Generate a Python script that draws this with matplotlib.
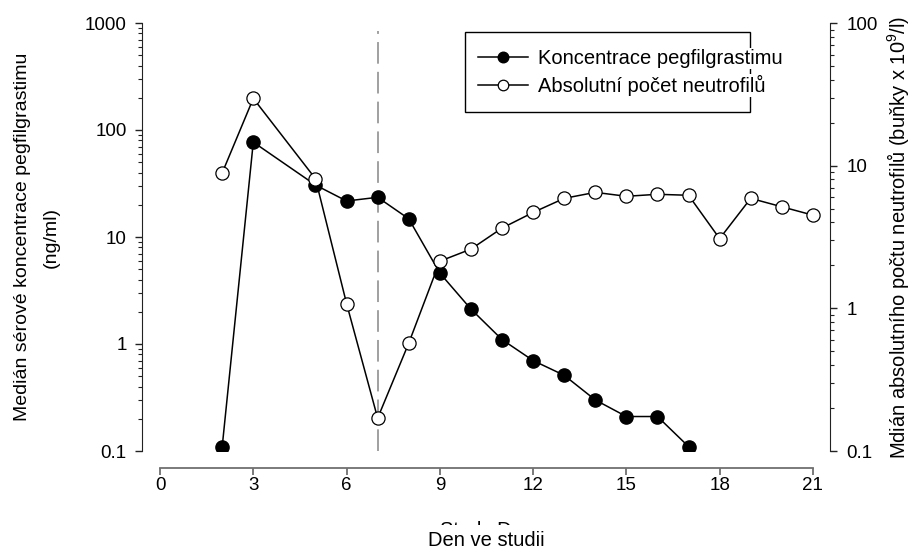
import matplotlib
matplotlib.use('Agg')
import matplotlib.pyplot as plt
from matplotlib.patches import Rectangle

plt.rcParams['font.family'] = ['Liberation Sans', 'DejaVu Sans']
plt.rcParams['mathtext.fontset'] = 'custom'
plt.rcParams['mathtext.rm'] = 'Liberation Sans'
plt.rcParams['mathtext.it'] = 'Liberation Sans:italic'

# data ---------------------------------------------------------------------------------------------------------
days_conc = [2, 3, 5, 6, 7, 8, 9, 10, 11, 12, 13, 14, 15, 16, 17]
conc = [0.11, 77, 30.6, 21.7, 23.5, 14.8, 4.6, 2.12, 1.1, 0.70, 0.51, 0.30, 0.21, 0.21, 0.11]

days_anc = [2, 3, 5, 6, 7, 8, 9, 10, 11, 12, 13, 14, 15, 16, 17, 18, 19, 20, 21]
anc = [8.9, 29.6, 8.1, 1.08, 0.17, 0.57, 2.14, 2.6, 3.65, 4.7, 5.9, 6.5, 6.1, 6.3, 6.2, 3.08, 5.9, 5.15, 4.5]

x_ticks = [0, 3, 6, 9, 12, 15, 18, 21]
left_ticks = [0.1, 1, 10, 100, 1000]
left_labels = ['0.1', '1', '10', '100', '1000']
right_ticks = [0.1, 1, 10, 100]
right_labels = ['0.1', '1', '10', '100']

conc_label = 'Koncentrace pegfilgrastimu'
anc_label = 'Absolutní počet neutrofilů'

# figure -------------------------------------------------------------------------------------------------------
fig = plt.figure(figsize=(9.13, 5.5), dpi=100)
ax1 = fig.add_axes([142/913, 99/550, 688/913, 428/550])
ax2 = ax1.twinx()

ax1.axvline(7, ymin=0, ymax=0.981, color='#999999', lw=1.3, dashes=(12, 4.5))

l1, = ax1.plot(days_conc, conc, '-o', color='black', lw=1.1, markersize=9.5,
               markerfacecolor='black', markeredgecolor='black', label=conc_label)
l2, = ax2.plot(days_anc, anc, '-o', color='black', lw=1.1, markersize=9.5,
               markerfacecolor='white', markeredgecolor='black', markeredgewidth=0.9, label=anc_label)

ax1.set_yscale('log')
ax2.set_yscale('log')
ax1.set_ylim(0.1, 1000)
ax2.set_ylim(0.1, 100)
ax1.set_xlim(-0.58, 21.55)

ax1.set_yticks(left_ticks, left_labels)
ax2.set_yticks(right_ticks, right_labels)
ax1.set_xticks(x_ticks, [str(t) for t in x_ticks])

for ax in (ax1, ax2):
    ax.spines['top'].set_visible(False)
    ax.spines['bottom'].set_visible(False)
ax1.spines['right'].set_visible(False)
ax2.spines['left'].set_visible(False)
ax1.spines['left'].set_color('#222222')
ax2.spines['right'].set_color('#222222')

ax1.spines['bottom'].set_visible(True)
ax1.spines['bottom'].set_position(('outward', 12))
ax1.spines['bottom'].set_bounds(0, 21)
ax1.spines['bottom'].set_color('#707070')
ax1.spines['bottom'].set_linewidth(1.3)

ax1.tick_params(axis='x', direction='out', length=5, width=1.3, color='#707070', pad=2, labelsize=13.5)
ax1.tick_params(axis='y', which='major', direction='out', length=5, width=1, color='#222222', pad=6, labelsize=13.5)
ax1.tick_params(axis='y', which='minor', direction='out', length=3, width=0.8, color='#222222')
ax2.tick_params(axis='y', which='major', direction='out', length=5, width=1, color='#222222', pad=7, labelsize=13.5)
ax2.tick_params(axis='y', which='minor', direction='out', length=3, width=0.8, color='#222222')
ax1.yaxis.set_minor_formatter(plt.NullFormatter())
ax2.yaxis.set_minor_formatter(plt.NullFormatter())

ax1.set_ylabel('Medián sérové koncentrace pegfilgrastimu\n(ng/ml)', fontsize=14, labelpad=18, linespacing=1.9)
ax2.set_ylabel('Mdián absolutního počtu neutrofilů (buňky x 10$^{9}$/l)', fontsize=14.5, labelpad=5)

# legend frame is smaller than the (translated) texts, which sit on white over it
frame = Rectangle((0.4695, 0.792), 0.884 - 0.4695, 0.979 - 0.792, transform=ax2.transAxes,
                  facecolor='white', edgecolor='black', lw=1.0, zorder=4)
ax2.add_patch(frame)
leg = ax2.legend(handles=[l1, l2], loc='upper left', bbox_to_anchor=(0.488, 0.939), borderaxespad=0,
                 frameon=False, fontsize=14.5, markerscale=0.8, handlelength=2.5, handletextpad=0.5,
                 borderpad=0, labelspacing=0.35)
leg.set_zorder(5)
for t in leg.get_texts():
    t.set_bbox(dict(boxstyle='square,pad=0.05', facecolor='white', edgecolor='none'))

# x labels: english one partly hidden under the czech one
fig.text(486/913, (550-536)/550, 'Study Day', ha='center', va='baseline', fontsize=14.5)
fig.text(486/913, (550-546)/550, 'Den ve studii', ha='center', va='baseline', fontsize=14.5,
         bbox=dict(boxstyle='square,pad=0.3', facecolor='white', edgecolor='none'))

fig.savefig('out.png', dpi=100)
